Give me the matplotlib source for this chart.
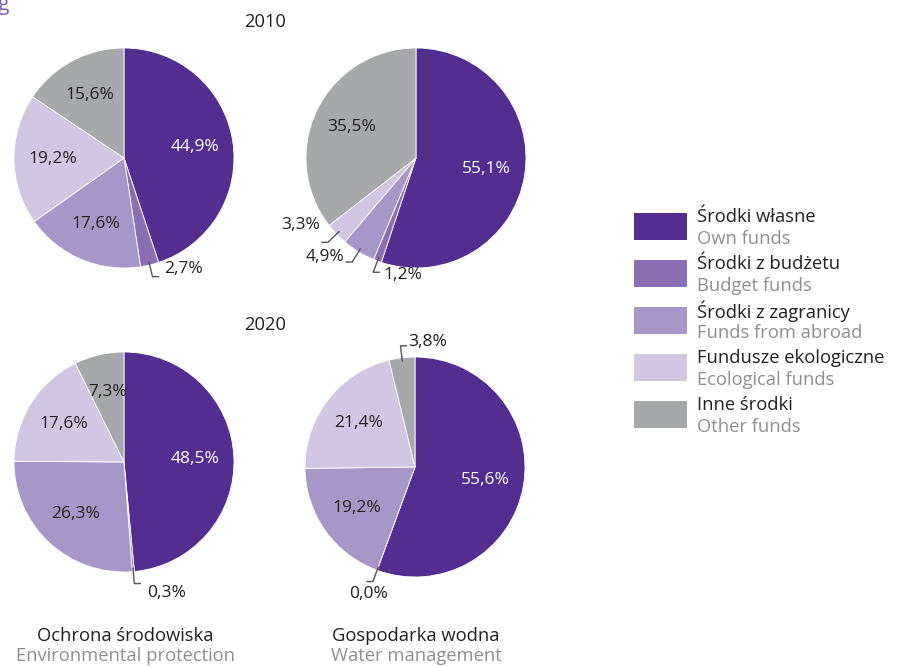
import numpy as np
import matplotlib
matplotlib.use("Agg")
import matplotlib.pyplot as plt

plt.rcParams['font.family'] = ['Open Sans', 'DejaVu Sans']

# dane
cat_pl = ['Środki własne', 'Środki z budżetu', 'Środki z zagranicy',
          'Fundusze ekologiczne', 'Inne środki']
cat_en = ['Own funds', 'Budget funds', 'Funds from abroad',
          'Ecological funds', 'Other funds']
colors = ['#522e91', '#8a70b2', '#a797c8', '#d1c7e3', '#a7a8aa']

env_2010 = [44.9, 2.7, 17.6, 19.2, 15.6]
water_2010 = [55.1, 1.2, 4.9, 3.3, 35.5]
env_2020 = [48.5, 0.3, 26.3, 17.6, 7.3]
water_2020 = [55.6, 0.0, 19.2, 21.4, 3.8]

years = ['2010', '2020']
sector_pl = ['Ochrona środowiska', 'Gospodarka wodna']
sector_en = ['Environmental protection', 'Water management']

W, H = 897, 667
DARK = '#231f20'
GREY = '#8f8f8f'
FS_PCT = 12.5
FS_TXT = 13.2

fig = plt.figure(figsize=(W / 100, H / 100), dpi=100)
ax = fig.add_axes([0, 0, 1, 1])

def Y(py):
    return H - py

# srodki kol w pikselach (x, y od gory)
pies = [(env_2010, (124, 158)), (water_2010, (416, 158)),
        (env_2020, (124, 462)), (water_2020, (415, 467))]
R = 110

# etykiety male z odnosnikami: (pie, slice) -> (kierunek, dx, dy, ha)
small = {(0, 1): (1, 6, -8, 'left'),
         (1, 1): (1, 4, 3, 'left'),
         (1, 2): (-1, -2, -5, 'right'),
         (1, 3): (-1, -2, -17, 'right'),
         (2, 1): (1, 7, 9, 'left'),
         (3, 1): (-1, 2, 12, 'center'),
         (3, 4): (1, 2, -4, 'left')}

for i, (vals, (cx, cy)) in enumerate(pies):
    wedges, _ = ax.pie(vals, colors=colors, startangle=90, counterclock=False,
                       center=(cx, Y(cy)), radius=R,
                       wedgeprops=dict(edgecolor='white', linewidth=0.6))
    for j, (w, v) in enumerate(zip(wedges, vals)):
        a = np.deg2rad((w.theta1 + w.theta2) / 2)
        lab = f'{v:.1f}%'.replace('.', ',')
        if (i, j) in small:
            d, dx, dy, ha = small[(i, j)]
            x0 = cx + R * 0.97 * np.cos(a)
            y0 = cy - R * 0.97 * np.sin(a)
            x1 = cx + (R + 12) * np.cos(a)
            y1 = cy - (R + 12) * np.sin(a)
            x2 = x1 + d * 6
            ax.plot([x0, x1, x2], [Y(y0), Y(y1), Y(y1)], color='#555555', lw=1)
            ax.text(x2 + dx, Y(y1 + dy), lab, ha=ha, va='center',
                    fontsize=FS_PCT, color=DARK)
        else:
            tx = cx + R * 0.65 * np.cos(a)
            ty = cy - R * 0.65 * np.sin(a)
            ax.text(tx, Y(ty), lab, ha='center', va='center', fontsize=FS_PCT,
                    color='white' if j == 0 else DARK)

# tytuly lat
ax.text(265, Y(22), years[0], ha='center', va='center', fontsize=FS_TXT, color=DARK)
ax.text(265, Y(325), years[1], ha='center', va='center', fontsize=FS_TXT, color=DARK)

# podpisy
for x, pl, en in zip([125, 416], sector_pl, sector_en):
    ax.text(x, Y(636), pl, ha='center', va='center', fontsize=FS_TXT, color=DARK)
    ax.text(x, Y(656), en, ha='center', va='center', fontsize=FS_TXT, color=GREY)

# legenda
for k in range(5):
    top = 213 + k * 47
    ax.add_patch(plt.Rectangle((634, Y(top + 27)), 53, 27, color=colors[k], lw=0))
    ax.text(697, Y(top + 4), cat_pl[k], ha='left', va='center', fontsize=FS_TXT, color=DARK)
    ax.text(697, Y(top + 26), cat_en[k], ha='left', va='center', fontsize=FS_TXT, color=GREY)

ax.text(-2, Y(-6), 'g', ha='left', va='top', fontsize=15, color='#7b5cb8')

ax.set_xlim(0, W)
ax.set_ylim(0, H)
ax.set_aspect('auto')
ax.axis('off')

plt.savefig('out.png', dpi=100)
